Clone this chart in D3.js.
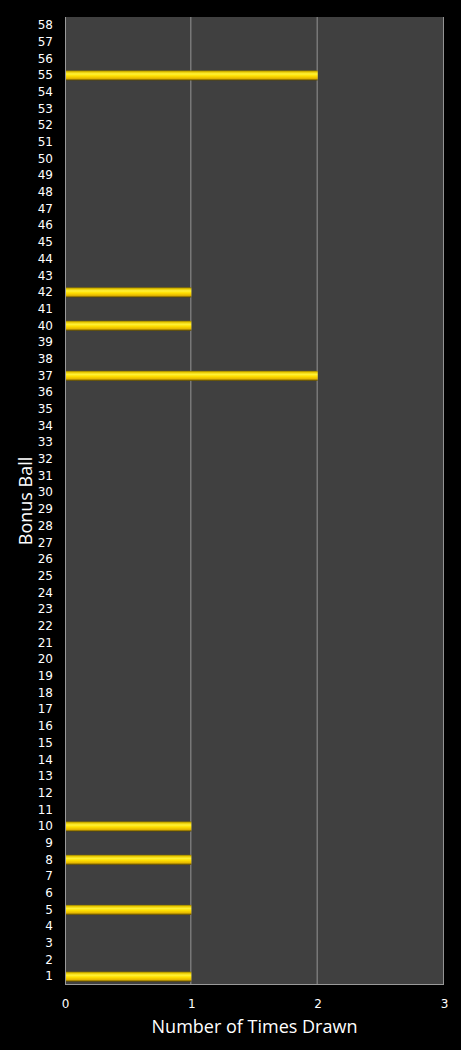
<!DOCTYPE html>
<html>
<head>
<meta charset="utf-8">
<script src="https://cdn.jsdelivr.net/npm/d3@7"></script>
<style>
  html, body { margin: 0; padding: 0; background: #000; }
  svg { display: block; }
</style>
</head>
<body>
<script>
// data
const balls = d3.range(1, 59)   // bonus ball numbers 1..58
const drawnBalls = [1, 5, 8, 10, 37, 40, 42, 55]
const drawnCounts = [1, 1, 1, 1, 2, 1, 1, 2]
const xTicks = [0, 1, 2, 3]

const dataset = drawnBalls.map((b, i) => ({ ball: b, count: drawnCounts[i] }))

const w = 461
const h = 1050
const margin = { top: 17, right: 17, bottom: 65, left: 65 }

const svg = d3.select("body")
  .append("svg")
  .attr("width", w)
  .attr("height", h)
  .style("background-color", "#000")

const defs = svg.append("defs")
const grad = defs.append("linearGradient")
  .attr("id", "barGrad")
  .attr("x1", 0).attr("y1", 0).attr("x2", 0).attr("y2", 1)
const stops = [
  [0, "#8a7400"], [0.15, "#e8c800"], [0.35, "#fff23a"],
  [0.55, "#ffe000"], [0.8, "#e6b800"], [1, "#5a4800"]
]
stops.forEach(s => grad.append("stop").attr("offset", s[0]).attr("stop-color", s[1]))

const xScale = d3.scaleLinear()
  .domain([0, 3])
  .range([margin.left, w - margin.right])

const yScale = d3.scaleBand()
  .domain(balls.slice().reverse())
  .range([margin.top, h - margin.bottom])
  .paddingInner(0.4)
  .paddingOuter(0.2)

// plot background
svg.append("rect")
  .attr("x", xScale(0))
  .attr("y", margin.top)
  .attr("width", xScale(3) - xScale(0))
  .attr("height", h - margin.bottom - margin.top)
  .style("fill", "#404040")

// gridlines
svg.append("g")
  .selectAll("line")
  .data(xTicks.slice(1))
  .enter()
  .append("line")
  .attr("x1", d => xScale(d) - 0.5)
  .attr("x2", d => xScale(d) - 0.5)
  .attr("y1", margin.top)
  .attr("y2", h - margin.bottom)
  .style("stroke", "#949494")
  .style("stroke-width", 1)

// bars
svg.selectAll(".bar")
  .data(dataset)
  .enter()
  .append("rect")
  .attr("class", "bar")
  .attr("x", xScale(0))
  .attr("y", d => yScale(d.ball))
  .attr("width", d => xScale(d.count) - xScale(0))
  .attr("height", yScale.bandwidth())
  .style("fill", "url(#barGrad)")

// axis lines (left and bottom)
svg.append("line")
  .attr("x1", xScale(0) + 0.5).attr("x2", xScale(0) + 0.5)
  .attr("y1", margin.top).attr("y2", h - margin.bottom)
  .style("stroke", "#9a9a9a")
svg.append("line")
  .attr("x1", xScale(0)).attr("x2", xScale(3))
  .attr("y1", h - margin.bottom - 0.5).attr("y2", h - margin.bottom - 0.5)
  .style("stroke", "#9a9a9a")

// y axis labels
const yAxis = d3.axisLeft(yScale).tickSize(0).tickPadding(12)
const gy = svg.append("g")
  .attr("transform", "translate(" + xScale(0) + ",0)")
  .call(yAxis)
gy.select(".domain").remove()
gy.selectAll("text")
  .style("fill", "#fff")
  .style("font-family", "DejaVu Sans, Verdana, sans-serif")
  .style("font-size", "12px")

// x axis labels
const xAxis = d3.axisBottom(xScale).tickValues(xTicks).tickFormat(d3.format("d"))
  .tickSize(0).tickPadding(14)
const gx = svg.append("g")
  .attr("transform", "translate(0," + (h - margin.bottom) + ")")
  .call(xAxis)
gx.select(".domain").remove()
gx.selectAll("text")
  .style("fill", "#fff")
  .style("font-family", "DejaVu Sans, Verdana, sans-serif")
  .style("font-size", "12px")

// axis titles
svg.append("text")
  .attr("x", (xScale(0) + xScale(3)) / 2)
  .attr("y", 1033)
  .attr("text-anchor", "middle")
  .style("fill", "#fff")
  .style("font-family", "Open Sans, sans-serif")
  .style("font-size", "18px")
  .text("Number of Times Drawn")

svg.append("text")
  .attr("transform", "translate(32," + ((margin.top + h - margin.bottom) / 2) + ") rotate(-90)")
  .attr("text-anchor", "middle")
  .style("fill", "#fff")
  .style("font-family", "Open Sans, sans-serif")
  .style("font-size", "18px")
  .text("Bonus Ball")
</script>
</body>
</html>
